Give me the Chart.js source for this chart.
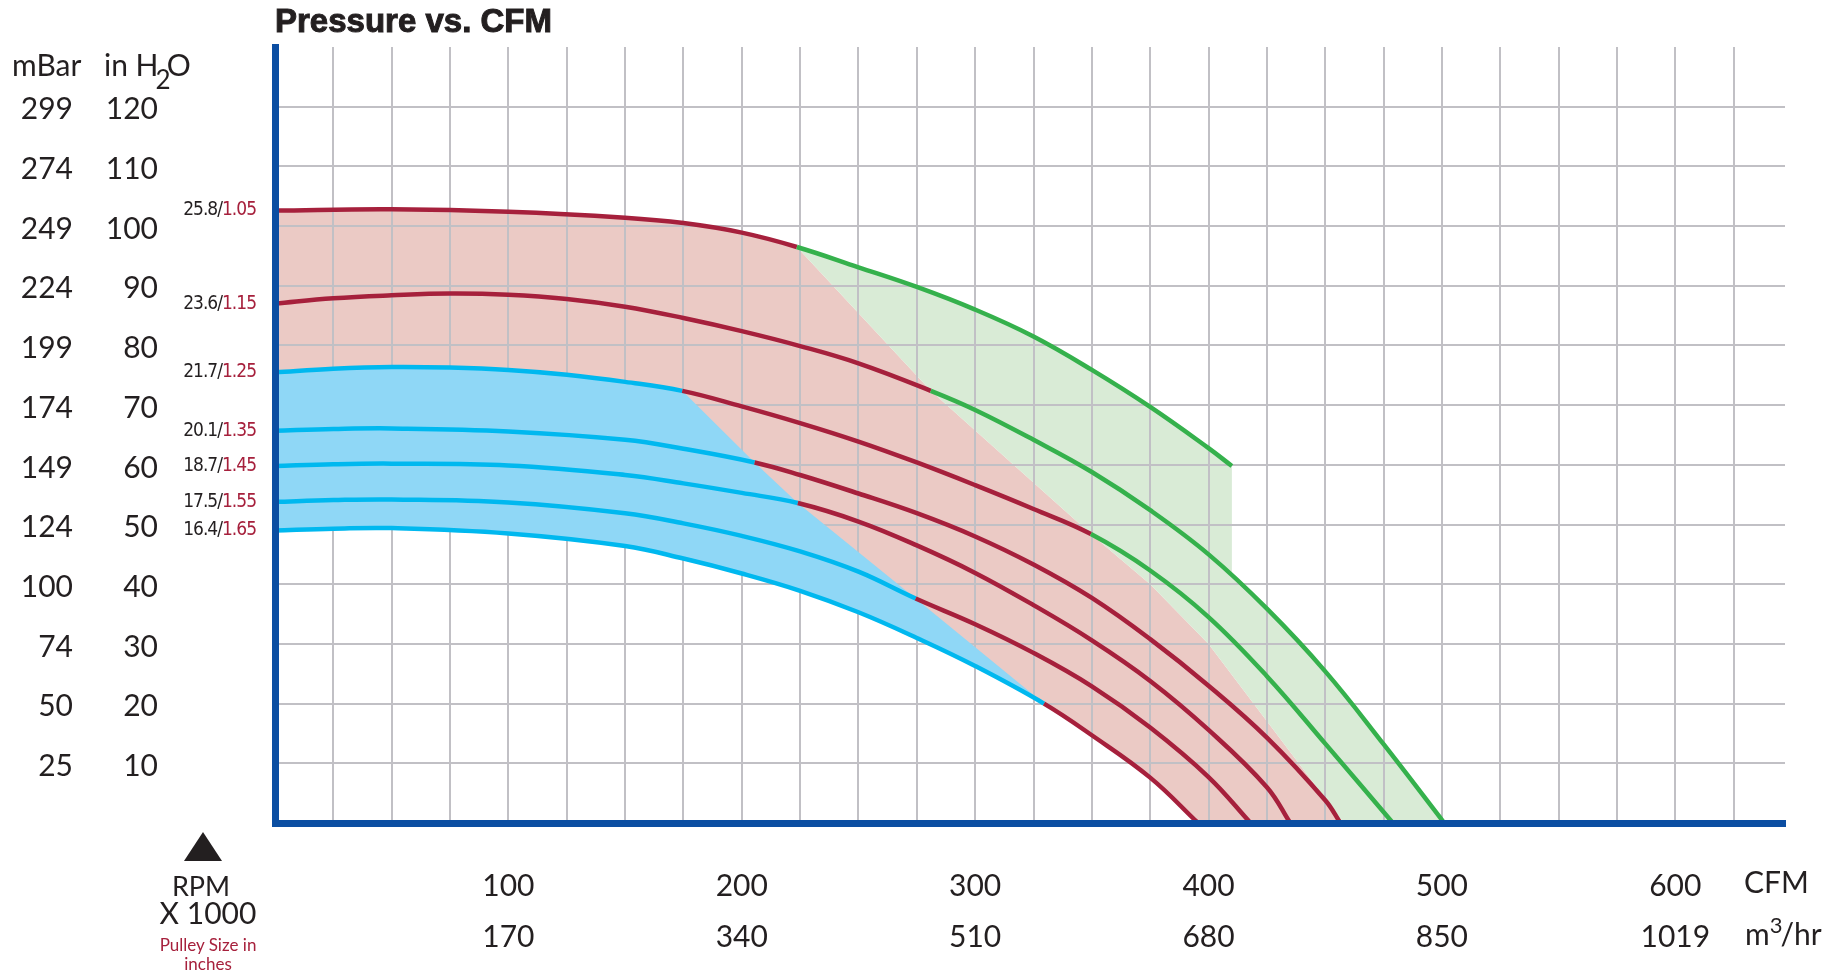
<!DOCTYPE html>
<html>
<head>
<meta charset="utf-8">
<title>Pressure vs. CFM</title>
<script src="https://cdn.jsdelivr.net/npm/chart.js@4.4.1/dist/chart.umd.min.js"></script>
<style>
  html, body { margin: 0; padding: 0; background: #fff; }
  #wrap { position: relative; width: 1834px; height: 978px; overflow: hidden;
          font-family: Lato, "Open Sans", sans-serif; color: #231f20; }
  #graphique { position: absolute; left: 0; top: 0; }
  .txt { position: absolute; white-space: nowrap; line-height: 1; }
  #titre { left: 275px; top: 4px; font: bold 33px/33px "Liberation Sans", Arial, sans-serif;
           -webkit-text-stroke: 1px #231f20; }
  .entete { font-size: 30px; line-height: 30px; top: 49px; }
  .entete sub { font-size: 26px; vertical-align: -13px; line-height: 0; margin-left: -3px; margin-right: -4px; }
  .unite { font-size: 30px; line-height: 30px; }
  .unite sup { font-size: 22px; vertical-align: 12px; line-height: 0; margin-right: -2px; }
  .centre { text-align: center; transform: translateX(-50%); }
  #tri { position: absolute; left: 184px; top: 832px; width: 0; height: 0;
         border-left: 19px solid transparent; border-right: 19px solid transparent;
         border-bottom: 29px solid #231f20; }
  .poulie { color: #a6203c; font-size: 17px; line-height: 17px; }
</style>
</head>
<body>
<div id="wrap">
  <canvas id="graphique" width="1834" height="978"></canvas>
  <div class="txt" id="titre">Pressure vs. CFM</div>
  <div class="txt entete" style="left:12px">mBar</div>
  <div class="txt entete" style="left:104px">in H<sub>2</sub>O</div>
  <div id="tri"></div>
  <div class="txt centre" style="left:201px; top:872px; font-size:27px; line-height:27px">RPM</div>
  <div class="txt centre" style="left:208px; top:897px; font-size:30px; line-height:30px">X 1000</div>
  <div class="txt centre poulie" style="left:208px; top:936px">Pulley Size in</div>
  <div class="txt centre poulie" style="left:208px; top:955px">inches</div>
  <div class="txt unite" style="left:1744px; top:866px">CFM</div>
  <div class="txt unite" style="left:1745px; top:918px">m<sup>3</sup>/hr</div>
</div>
<script>
// débit (CFM) et pression (in H2O) de chaque courbe
const cfm1 = [0, 50, 100, 150, 175, 200, 223.6, 250, 275, 300, 325, 350, 375, 400, 410];
const h2o1 = [102.6, 102.8, 102.4, 101.4, 100.5, 98.9, 96.5, 93.1, 89.8, 86.0, 81.5, 75.9, 69.7, 62.8, 59.8];
const cfm2 = [0, 25, 50, 75, 100, 125, 150, 175, 200, 225, 250, 281, 300, 325, 350, 375, 400, 425, 450, 475, 501];
const h2o2 = [87.0, 87.9, 88.4, 88.7, 88.5, 87.8, 86.5, 84.6, 82.4, 79.9, 77.0, 72.4, 69.2, 64.2, 58.8, 52.4, 45.0, 35.9, 25.4, 13.2, 0];
const cfm3 = [0, 25, 50, 75, 100, 125, 150, 174.5, 200, 225, 250, 275, 300, 325, 349.6, 375, 400, 425, 450, 479];
const h2o3 = [75.5, 76.1, 76.4, 76.3, 75.9, 75.1, 73.9, 72.4, 69.8, 67.0, 63.9, 60.4, 56.6, 52.6, 48.4, 42.3, 34.5, 24.6, 13.3, 0];
const cfm4 = [0, 25, 50, 100, 150, 175, 205.5, 225, 250, 275, 300, 325, 350, 375, 400, 425, 450, 456.5];
const h2o4 = [65.7, 66.0, 66.1, 65.6, 64.2, 62.7, 60.4, 58.3, 55.2, 51.9, 48.0, 43.3, 37.7, 30.8, 23.0, 14.3, 3.8, 0];
const cfm5 = [0, 25, 50, 100, 150, 175, 200, 224, 250, 275, 300, 325, 350, 375, 400, 425, 435];
const h2o5 = [59.8, 60.1, 60.2, 59.9, 58.3, 56.9, 55.3, 53.6, 50.5, 46.5, 41.9, 36.5, 30.6, 23.8, 15.6, 6.0, 0];
const cfm6 = [0, 25, 50, 100, 150, 175, 200, 225, 250, 274.5, 300, 325, 350, 375, 400, 418];
const h2o6 = [53.8, 54.1, 54.2, 53.7, 51.9, 50.2, 48.1, 45.5, 42.1, 37.6, 33.3, 28.5, 22.9, 16.0, 7.7, 0];
const cfm7 = [0, 25, 50, 100, 150, 175, 200, 225, 250, 275, 300, 329.5, 350, 375, 395.5];
const h2o7 = [49.0, 49.3, 49.4, 48.5, 46.4, 44.3, 41.8, 38.9, 35.3, 31.0, 26.3, 20.0, 14.7, 7.6, 0];

// vitesse (RPM x 1000) / diamètre de poulie de chaque courbe
const rpmLabels = ['25.8', '23.6', '21.7', '20.1', '18.7', '17.5', '16.4'];
const pulleyLabels = ['1.05', '1.15', '1.25', '1.35', '1.45', '1.55', '1.65'];

// fin du tronçon bleu et début du tronçon vert (CFM), null = absent
const blueEnds = [null, null, 174.5, 205.5, 224, 274.5, 329.5];
const greenStarts = [223.6, 281, 349.6, null, null, null, null];

// bord bas de la zone rose sous la dernière transition verte
const pinkEdgeCfm = [375, 400, 458];
const pinkEdgeH2o = [40, 30, 0];
// coin bas de la zone verte, sur la courbe 23.6
const greenCutCfm = 410;
const greenCutH2o = 41.3;

// graduations
const mbarLabels = [25, 50, 74, 100, 124, 149, 174, 199, 224, 249, 274, 299];
const cfmLabels = [100, 200, 300, 400, 500, 600];
const m3hLabels = [170, 340, 510, 680, 850, 1019];

const ink = '#231f20';
const red = '#a6203c';
const lineBlue = '#00b8ef';
const lineGreen = '#35b14c';
const gridColor = '#c1c0c5';
const axisBlue = '#0b4ea2';
const clear = 'rgba(0,0,0,0)';

function pts(xs, ys) { return xs.map((x, i) => ({x: x, y: ys[i]})); }
const curves = [[cfm1, h2o1], [cfm2, h2o2], [cfm3, h2o3], [cfm4, h2o4], [cfm5, h2o5], [cfm6, h2o6], [cfm7, h2o7]];
const curvePts = curves.map(c => pts(c[0], c[1]));
const upTo = (p, x) => p.filter(q => q.x <= x);
const from = (p, x) => p.filter(q => q.x >= x);
const at = (p, x) => p.find(q => q.x === x);

// zone bleue : sous la courbe 21.7 jusqu'aux transitions bleu/rouge
const bluePoly = [].concat(
  upTo(curvePts[2], blueEnds[2]),
  [at(curvePts[3], blueEnds[3]), at(curvePts[4], blueEnds[4]), at(curvePts[5], blueEnds[5])],
  upTo(curvePts[6], blueEnds[6]).reverse()
);
// limite rose / vert
const pinkEdge = [].concat(
  [at(curvePts[0], greenStarts[0]), at(curvePts[1], greenStarts[1]), at(curvePts[2], greenStarts[2])],
  pts(pinkEdgeCfm, pinkEdgeH2o)
);
const pinkPoly = [].concat(
  upTo(curvePts[0], greenStarts[0]),
  pinkEdge.slice(1),
  curvePts[6].slice().reverse()
);
const greenPoly = [].concat(
  from(curvePts[0], greenStarts[0]),
  [{x: greenCutCfm, y: greenCutH2o}],
  curvePts[1].filter(q => q.x > greenCutCfm),
  pinkEdge.slice().reverse()
);

function segColor(i, x) {
  if (blueEnds[i] !== null && x < blueEnds[i]) return lineBlue;
  if (greenStarts[i] !== null && x >= greenStarts[i]) return lineGreen;
  return red;
}

const datasets = curvePts.map((p, i) => ({
  data: p,
  borderColor: red,
  borderWidth: 4.5,
  borderCapStyle: 'butt',
  pointRadius: 0,
  fill: false,
  tension: 0.4,
  segment: { borderColor: ctx => segColor(i, ctx.p0.parsed.x) },
  order: 0
}));
const BLUE_INDEX = datasets.length;
datasets.push({ data: bluePoly, borderColor: clear, borderWidth: 0, pointRadius: 0, fill: false, tension: 0, order: 1 });
datasets.push({ data: greenPoly, borderColor: clear, borderWidth: 0, pointRadius: 0, fill: 'shape', backgroundColor: '#d9ebd6', tension: 0, order: 2 });
datasets.push({ data: pinkPoly, borderColor: clear, borderWidth: 0, pointRadius: 0, fill: 'shape', backgroundColor: '#ebcac5', tension: 0, order: 3 });

// la zone bleue couvre la grille, les zones rose et verte restent dessous
const zoneBleue = {
  id: 'zoneBleue',
  beforeDatasetsDraw(chart) {
    const meta = chart.getDatasetMeta(BLUE_INDEX);
    const a = chart.chartArea, ctx = chart.ctx;
    ctx.save();
    ctx.beginPath();
    ctx.rect(a.left, a.top, a.right - a.left, a.bottom - a.top);
    ctx.clip();
    ctx.beginPath();
    meta.dataset.path(ctx);
    ctx.closePath();
    ctx.fillStyle = '#8fd7f6';
    ctx.fill();
    ctx.restore();
  }
};

const etiquettes = {
  id: 'etiquettes',
  afterDraw(chart) {
    const ctx = chart.ctx, y = chart.scales.y;
    const xr = chart.chartArea.left - 19;
    ctx.save();
    ctx.font = '19px "Liberation Sans Narrow", "DejaVu Sans Condensed", sans-serif';
    if ('letterSpacing' in ctx) ctx.letterSpacing = '-1px';
    ctx.textBaseline = 'middle';
    ctx.textAlign = 'right';
    curves.forEach((c, i) => {
      const py = y.getPixelForValue(c[1][0]);
      ctx.fillStyle = red;
      ctx.fillText(pulleyLabels[i], xr, py);
      const w = ctx.measureText(pulleyLabels[i]).width;
      ctx.fillStyle = ink;
      ctx.fillText(rpmLabels[i] + '/', xr - w, py);
    });
    ctx.restore();
  }
};

const tickFont = { family: 'Lato, "Open Sans", sans-serif', size: 30 };
const spacer = (w, weight, border) => ({
  type: 'linear', min: 0, max: 130, position: 'left', weight: weight,
  ticks: { display: false },
  grid: { display: false, drawTicks: false },
  border: border ? { display: true, color: axisBlue, width: 7, z: 1 } : { display: false },
  afterFit: s => { s.width = w; }
});

new Chart(document.getElementById('graphique').getContext('2d'), {
  type: 'line',
  data: { datasets: datasets },
  options: {
    responsive: false,
    animation: false,
    devicePixelRatio: 1,
    layout: { padding: { top: 47, right: 49, bottom: 0, left: 0 } },
    plugins: {
      legend: { display: false },
      tooltip: { enabled: false },
      filler: { drawTime: 'beforeDraw' }
    },
    scales: {
      x: {
        type: 'linear', min: 0, max: 647,
        ticks: {
          stepSize: 25, autoSkip: false, maxRotation: 0, padding: 38, color: ink, includeBounds: false,
          font: { family: tickFont.family, size: 30, lineHeight: 1.7 },
          callback: v => {
            const k = cfmLabels.indexOf(v);
            return k < 0 ? '' : [String(cfmLabels[k]), String(m3hLabels[k])];
          }
        },
        grid: { color: gridColor, lineWidth: 2, drawTicks: false },
        border: { display: true, color: axisBlue, width: 7, z: 1 },
        afterFit: s => { s.height = 155; }
      },
      // bande des étiquettes de courbes, porte l'axe bleu vertical
      yc: spacer(117, 0, true),
      y: {
        type: 'linear', min: 0, max: 130, position: 'left', weight: 1,
        ticks: {
          stepSize: 10, padding: 0, labelOffset: 3, color: ink, font: tickFont,
          callback: v => (v >= 10 && v <= 120) ? String(v) : ''
        },
        grid: { color: ctx => (ctx.tick && ctx.tick.value === 130) ? clear : gridColor, lineWidth: 2, drawTicks: false },
        border: { display: false },
        afterFit: s => { s.width = 60; }
      },
      yd: spacer(25, 2, false),
      yb: {
        type: 'linear', min: 0, max: 130, position: 'left', weight: 3,
        ticks: {
          stepSize: 10, padding: 0, labelOffset: 3, color: ink, font: tickFont,
          callback: v => {
            const k = Math.round(v / 10) - 1;
            return (k >= 0 && k < mbarLabels.length) ? String(mbarLabels[k]) : '';
          }
        },
        grid: { display: false, drawTicks: false },
        border: { display: false },
        afterFit: s => { s.width = 73; }
      }
    }
  },
  plugins: [zoneBleue, etiquettes]
});
</script>
</body>
</html>
